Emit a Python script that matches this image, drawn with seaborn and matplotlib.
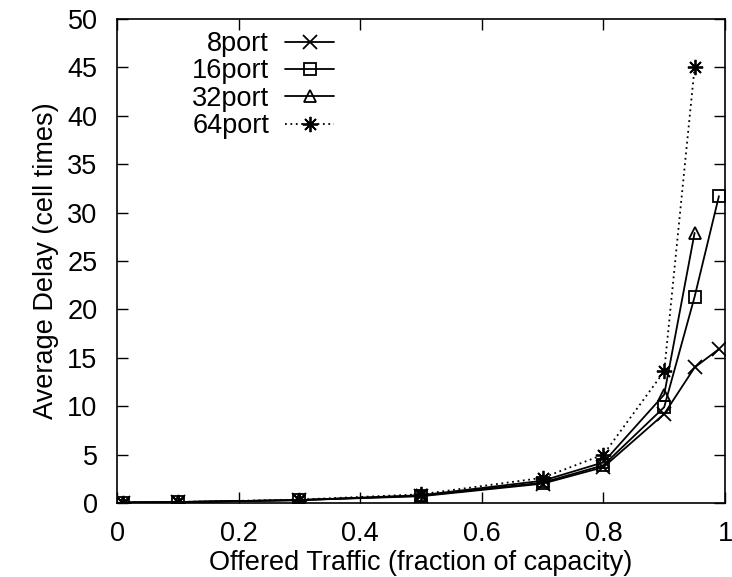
import numpy as np
import pandas as pd
import matplotlib
matplotlib.use("Agg")
import matplotlib.pyplot as plt
import seaborn as sns

# offered load points
load = [0.01, 0.1, 0.3, 0.5, 0.7, 0.8, 0.9, 0.95, 0.99]

delay_8 = [0.05, 0.1, 0.3, 0.7, 2.0, 3.7, 9.2, 14.0, 15.9]
delay_16 = [0.05, 0.1, 0.3, 0.75, 2.1, 3.9, 9.9, 21.3, 31.7]
delay_32 = [0.05, 0.1, 0.3, 0.8, 2.3, 4.2, 11.2, 27.9]
delay_64 = [0.05, 0.1, 0.35, 0.9, 2.6, 5.0, 13.6, 45.0]

names = ["8port", "16port", "32port", "64port"]
values = [delay_8, delay_16, delay_32, delay_64]

FS = 19.5

sns.set_style("ticks")
plt.rcParams['font.family'] = ['Liberation Sans', 'DejaVu Sans']
plt.rcParams['font.size'] = FS
plt.rcParams['text.color'] = 'black'
plt.rcParams['axes.labelcolor'] = 'black'

fig = plt.figure(figsize=(7.32, 5.77), dpi=100)
# axes box: x 117..725 px, y 19..503 px
ax = fig.add_axes([117 / 732, 1 - 503 / 577, 608 / 732, 484 / 577])

markers = {"8port": "x", "16port": "s", "32port": "^", "64port": (8, 2, 0)}
msize = {"8port": 10, "16port": 9, "32port": 9, "64port": 11}
styles = {"8port": "-", "16port": "-", "32port": "-", "64port": (0, (1, 2))}

for name, vals in zip(names, values):
    d = pd.DataFrame({"load": load[:len(vals)], "delay": vals})
    sns.lineplot(data=d, x="load", y="delay", ax=ax, color="black",
                 marker=markers[name], linestyle=styles[name],
                 markersize=msize[name], markerfacecolor="none", markeredgecolor="black",
                 markeredgewidth=1.3, linewidth=1.3, label=name)

ax.set_xlim(0, 1)
ax.set_ylim(0, 50)
ax.set_xticks([0, 0.2, 0.4, 0.6, 0.8, 1])
ax.set_xticklabels(["0", "0.2", "0.4", "0.6", "0.8", "1"])
ax.set_yticks(range(0, 51, 5))
ax.tick_params(direction="in", top=True, right=True, length=8, width=1,
               labelsize=FS, colors="black")
ax.tick_params(axis="y", pad=14)
ax.tick_params(axis="x", pad=13)
for sp in ax.spines.values():
    sp.set_visible(True)
    sp.set_linewidth(1.2)
    sp.set_color("black")

ax.set_xlabel("Offered Traffic (fraction of capacity)", fontsize=FS, labelpad=2, color="black")
ax.set_ylabel("Average Delay (cell times)", fontsize=FS, labelpad=6, color="black")

handles, labels = ax.get_legend_handles_labels()
leg = ax.legend(handles, labels, loc="upper right", bbox_to_anchor=(334 / 732, 1 - 31 / 577),
                bbox_transform=fig.transFigure, borderpad=0, borderaxespad=0,
                frameon=False, markerfirst=False, handlelength=1.8,
                labelspacing=0.05, handletextpad=0.6, fontsize=FS)
for t in leg.get_texts():
    t.set_color("black")

fig.savefig("out.png", dpi=100)
